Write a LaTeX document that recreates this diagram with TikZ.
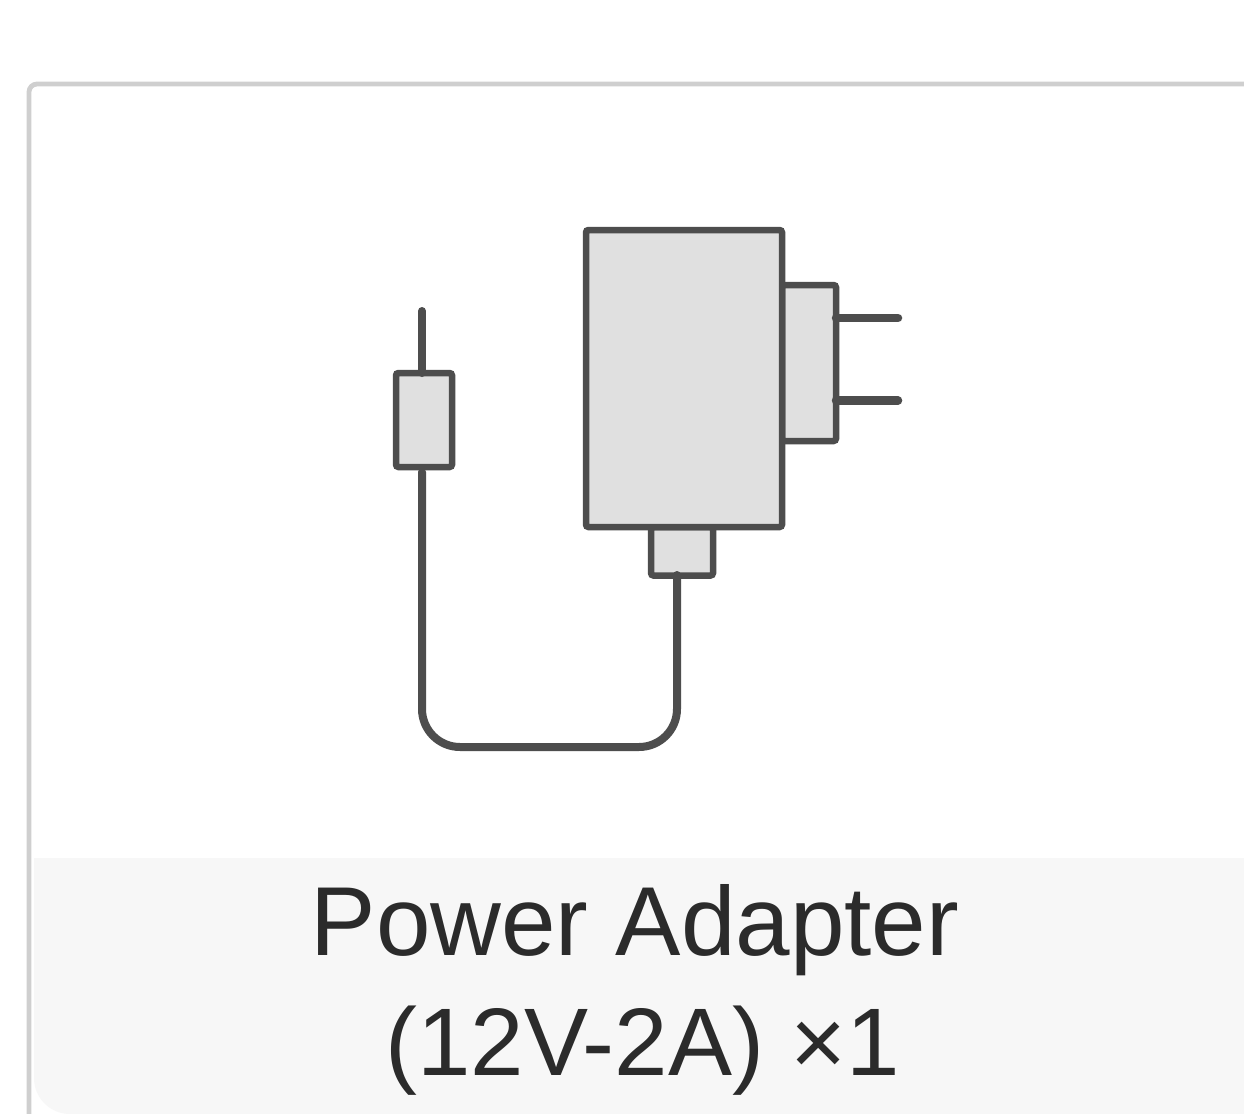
\documentclass[tikz,border=0pt]{standalone}
\usepackage{fontspec}
\setmainfont{Liberation Sans}
\definecolor{framegray}{HTML}{CFCFCF}
\definecolor{panelgray}{HTML}{F7F7F7}
\definecolor{bodygray}{HTML}{E0E0E0}
\definecolor{linegray}{HTML}{4D4D4D}
\definecolor{textgray}{HTML}{2B2B2B}
\tikzset{
  px/.style={x=0.5pt,y=-0.5pt},
  framepath/.style={draw=framegray,line width=2.4pt,rounded corners=4pt},
  partbox/.style={draw=linegray,fill=bodygray,line width=3.25pt,rounded corners=1.25pt,inner sep=0pt,outer sep=0pt,anchor=north west},
  cable/.style={draw=linegray,line width=4pt,line cap=round},
  prong/.style={draw=linegray,line width=4.25pt,line cap=round},
  caption/.style={text=textgray,font=\fontsize{49}{60}\selectfont,inner sep=0pt,anchor=base},
  captionb/.style={text=textgray,font=\fontsize{48}{60}\selectfont,inner sep=0pt,anchor=base}
}
\begin{document}
\begin{tikzpicture}[px]
\useasboundingbox (0,0) rectangle (1244,1114);
\begin{scope}
\clip (0,0) rectangle (1244,1114);
\fill[white] (0,0) rectangle (1244,1114);
\draw[framepath] (1260,84) -- (29,84) -- (29,1130);
\fill[panelgray] (1300,858) -- (34,858) [rounded corners=18pt] -- (34,1114) [sharp corners] -- (1300,1114) -- cycle;
\end{scope}
\node[partbox,minimum width=27pt,minimum height=78pt] (plug) at (782,285) {};
\node[partbox,minimum width=31pt,minimum height=24.25pt] (outlet) at (651,527) {};
\node[partbox,minimum width=98pt,minimum height=148.5pt] (body) at (586,230) {};
\node[partbox,minimum width=28pt,minimum height=47pt] (barrel) at (396,373) {};
\coordinate (prongA) at (898,318);
\coordinate (prongB) at (898,400.5);
\coordinate (prongAin) at (836,318);
\coordinate (prongBin) at (836,400.5);
\coordinate (tip) at (422,311);
\coordinate (tipin) at (422,373);
\coordinate (barrelout) at (422,472);
\coordinate (outletin) at (677,575);
\coordinate (bendA) at (422,747);
\coordinate (bendB) at (677,747);
\draw[prong] (prongAin) -- (prongA);
\draw[prong] (prongBin) -- (prongB);
\draw[cable] (tip) -- (tipin);
\draw[cable,rounded corners=19pt] (barrelout) -- (bendA) -- (bendB) -- (outletin);
\node[caption] (line1) at (635,955) {Power Adapter};
\node[captionb] (line2) at (643,1075) {(12V-2A) ×1};
\end{tikzpicture}
\end{document}
